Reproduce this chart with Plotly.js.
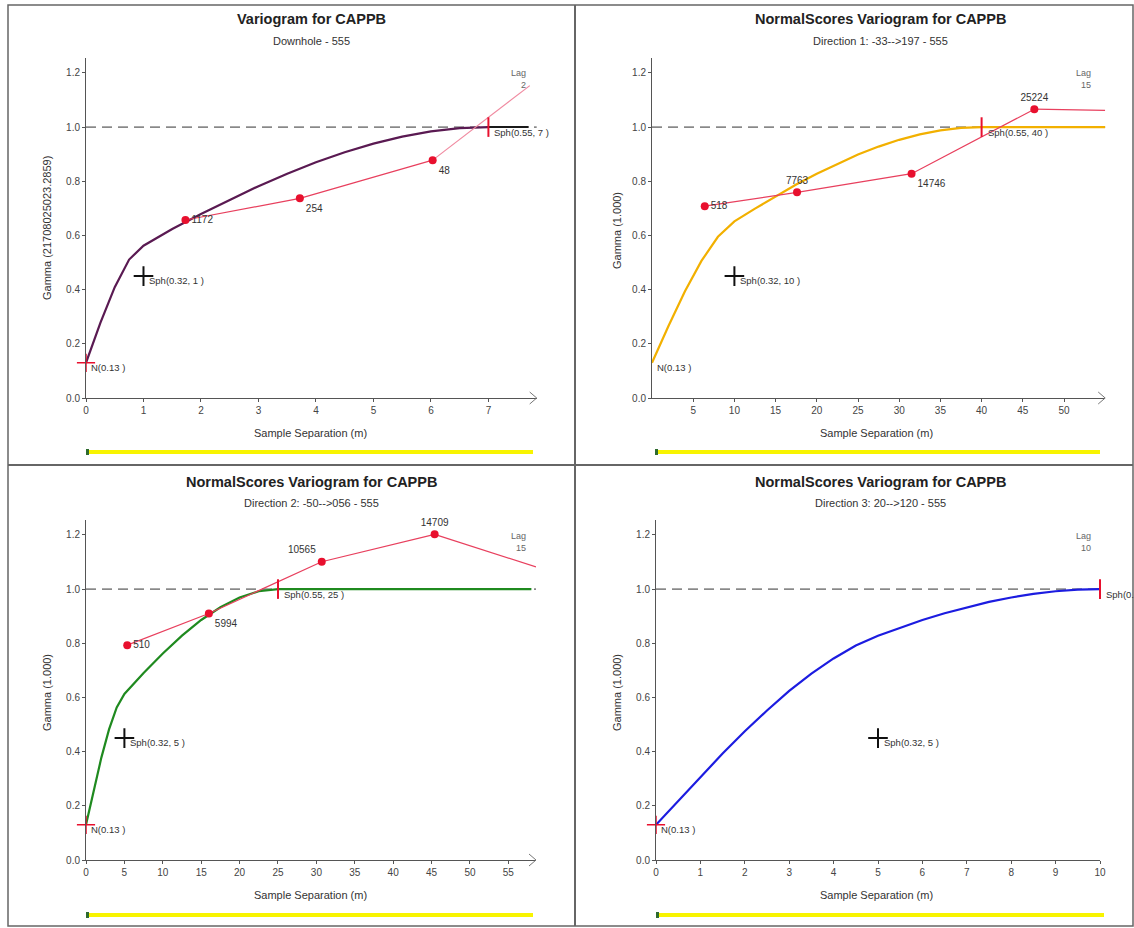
<!DOCTYPE html>
<html>
<head>
<meta charset="utf-8">
<script src="https://cdn.plot.ly/plotly-3.0.1.min.js"></script>
<style>html,body{margin:0;padding:0;background:#fff}#chart{width:1134px;height:928px}</style>
</head>
<body>
<div id="chart"></div>
<script>
// ---------- data ----------
// Panel 1: Downhole
const p1ModelX = [0, 0.25, 0.5, 0.75, 1, 1.5, 2, 2.5, 3, 3.5, 4, 4.5, 5, 5.5, 6, 6.5, 7];
const p1ModelY = [0.13, 0.277, 0.409, 0.511, 0.562, 0.624, 0.679, 0.732, 0.782, 0.828, 0.870, 0.907, 0.939, 0.965, 0.984, 0.996, 1.0];
const p1SillX = [7, 7.7];
const p1SillY = [1.0, 1.0];
const p1LagX = [1.73, 3.72, 6.03];
const p1LagY = [0.657, 0.737, 0.878];
const p1Pairs = ["1172", "254", "48"];
const p1TailX = [6.03, 7.72];
const p1TailY = [0.878, 1.153];

// Panel 2: Direction 1
const p2ModelX = [0, 2, 4, 6, 8, 10, 12.5, 15, 17.5, 20, 22.5, 25, 27.5, 30, 32.5, 35, 37.5, 40, 55];
const p2ModelY = [0.13, 0.266, 0.394, 0.506, 0.595, 0.652, 0.699, 0.745, 0.788, 0.828, 0.865, 0.899, 0.928, 0.953, 0.973, 0.988, 0.997, 1.0, 1.0];
const p2LagX = [6.4, 17.6, 31.5, 46.4];
const p2LagY = [0.708, 0.759, 0.828, 1.066];
const p2Pairs = ["518", "7763", "14746", "25224"];
const p2TailX = [46.4, 55];
const p2TailY = [1.066, 1.062];

// Panel 3: Direction 2
const p3ModelX = [0, 1, 2, 3, 4, 5, 7.5, 10, 12.5, 15, 17.5, 20, 22.5, 25, 58];
const p3ModelY = [0.13, 0.258, 0.378, 0.482, 0.563, 0.613, 0.690, 0.762, 0.828, 0.886, 0.933, 0.969, 0.992, 1.0, 1.0];
const p3LagX = [5.37, 16.0, 30.7, 45.4];
const p3LagY = [0.793, 0.910, 1.101, 1.202];
const p3Pairs = ["510", "5994", "10565", "14709"];
const p3TailX = [45.4, 58.6];
const p3TailY = [1.202, 1.082];

// Panel 4: Direction 3
const p4ModelX = [0, 0.5, 1, 1.5, 2, 2.5, 3, 3.5, 4, 4.5, 5, 5.5, 6, 6.5, 7, 7.5, 8, 8.5, 9, 9.5, 10];
const p4ModelY = [0.13, 0.219, 0.307, 0.393, 0.475, 0.552, 0.624, 0.688, 0.744, 0.792, 0.828, 0.858, 0.886, 0.911, 0.933, 0.953, 0.969, 0.982, 0.992, 0.998, 1.0];

// model structures: nugget, first spherical, second spherical
const nugget = 0.13;
const sph1Sill = 0.45;        // nugget + 0.32
const sph1Range = [1, 10, 5, 5];
const sph2Range = [7, 40, 25, 10];
const sillLevel = 1.0;
const nuggetLabels = ["N(0.13 )", "N(0.13 )", "N(0.13 )", "N(0.13 )"];
const sph1Labels = ["Sph(0.32, 1 )", "Sph(0.32, 10 )", "Sph(0.32, 5 )", "Sph(0.32, 5 )"];
const sph2Labels = ["Sph(0.55, 7 )", "Sph(0.55, 40 )", "Sph(0.55, 25 )", "Sph(0.55, 10 )"];
const lagNumbers = ["2", "15", "15", "10"];

const titles = ["Variogram for CAPPB", "NormalScores Variogram for CAPPB", "NormalScores Variogram for CAPPB", "NormalScores Variogram for CAPPB"];
const subtitles = ["Downhole - 555", "Direction 1: -33-->197 - 555", "Direction 2: -50-->056 - 555", "Direction 3: 20-->120 - 555"];
const yTitles = ["Gamma (21708025023.2859)", "Gamma (1.000)", "Gamma (1.000)", "Gamma (1.000)"];
const xTitle = "Sample Separation (m)";

const yTickVals = [0, 0.2, 0.4, 0.6, 0.8, 1.0, 1.2];
const xTickVals = [
  [0, 1, 2, 3, 4, 5, 6, 7],
  [5, 10, 15, 20, 25, 30, 35, 40, 45, 50],
  [0, 5, 10, 15, 20, 25, 30, 35, 40, 45, 50, 55],
  [0, 1, 2, 3, 4, 5, 6, 7, 8, 9, 10]
];
const xRanges = [[0, 7.84], [0, 55], [0, 58.6], [0, 10]];
const yRange = [0, 1.255];

// ---------- layout geometry (pixels) ----------
const W = 1134, H = 928;
const fx = p => p / W;
const fy = p => 1 - p / H;
const panels = [
  {xl: 86, xr: 536.7, yb: 398, yt: 58, tx: 311, ty: 19, sy: 41, gx: 47, gy: 228, axy: 433, axx: 310, bar: 452, barL: 86, barR: 533, lagX: 528, lagY: 66, arrow: true},
  {xl: 652, xr: 1105.2, yb: 398, yt: 58, tx: 880, ty: 19, sy: 41, gx: 617, gy: 231, axy: 433, axx: 876, bar: 452, barL: 655, barR: 1100, lagX: 1093, lagY: 66, arrow: true},
  {xl: 86, xr: 536, yb: 860, yt: 520, tx: 311, ty: 482, sy: 503, gx: 47, gy: 693, axy: 895, axx: 310, bar: 915, barL: 86, barR: 533, lagX: 528, lagY: 529, arrow: true},
  {xl: 656, xr: 1100, yb: 860, yt: 520, tx: 880, ty: 482, sy: 503, gx: 617, gy: 693, axy: 895, axx: 876, bar: 915, barL: 656, barR: 1104, lagX: 1093, lagY: 529, arrow: false}
];

const FONT = "Liberation Sans, Arial, sans-serif";
const RED = "#e8102e";
const LAGLINE = "#e8405e";
const modelColors = ["#5a1a52", "#f2b000", "#1f8a1f", "#1c1ce0"];

const traces = [];
const ax = i => (i === 0 ? "" : String(i + 1));

const modelX = [p1ModelX, p2ModelX, p3ModelX, p4ModelX];
const modelY = [p1ModelY, p2ModelY, p3ModelY, p4ModelY];
const lagXs = [p1LagX, p2LagX, p3LagX, null];
const lagYs = [p1LagY, p2LagY, p3LagY, null];
const pairs = [p1Pairs, p2Pairs, p3Pairs, null];
const tailXs = [p1TailX, p2TailX, p3TailX, null];
const tailYs = [p1TailY, p2TailY, p3TailY, null];
const tailColors = ["#f08aa0", LAGLINE, LAGLINE];
const textPos = [
  ["middle right", "bottom right", "bottom right"],
  ["middle right", "top center", "bottom right", "top center"],
  ["middle right", "bottom right", "top left", "top center"]
];

for (let i = 0; i < 4; i++) {
  const xa = "x" + ax(i), ya = "y" + ax(i);
  // model curve
  traces.push({x: modelX[i], y: modelY[i], xaxis: xa, yaxis: ya, mode: "lines",
    line: {color: modelColors[i], width: 2.2}, hoverinfo: "skip"});
  if (i === 0) {
    traces.push({x: p1SillX, y: p1SillY, xaxis: xa, yaxis: ya, mode: "lines",
      line: {color: "#1a1a1a", width: 2}, hoverinfo: "skip"});
  }
  // experimental variogram
  if (lagXs[i]) {
    traces.push({x: tailXs[i], y: tailYs[i], xaxis: xa, yaxis: ya, mode: "lines",
      line: {color: tailColors[i], width: 1.2}, hoverinfo: "skip"});
    traces.push({x: lagXs[i], y: lagYs[i], text: pairs[i], textposition: textPos[i],
      textfont: {family: FONT, size: 10, color: "#333"},
      xaxis: xa, yaxis: ya, mode: "lines+markers+text",
      line: {color: LAGLINE, width: 1.2}, marker: {color: RED, size: 8}, cliponaxis: false});
  }
  // nugget marker
  if (i !== 1) {
    traces.push({x: [0], y: [nugget], xaxis: xa, yaxis: ya, mode: "markers",
      marker: {symbol: "cross-thin-open", size: 13, color: RED, line: {color: RED, width: 1.5}}, cliponaxis: false});
  }
  // first structure marker
  traces.push({x: [sph1Range[i]], y: [sph1Sill], xaxis: xa, yaxis: ya, mode: "markers",
    marker: {symbol: "cross-thin-open", size: 14, color: "#111", line: {color: "#111", width: 2}}, cliponaxis: false});
  // second structure marker
  traces.push({x: [sph2Range[i]], y: [sillLevel], xaxis: xa, yaxis: ya, mode: "markers",
    marker: {symbol: "line-ns-open", size: 14, color: RED, line: {color: RED, width: 2}}, cliponaxis: false});
}

const layout = {
  width: W, height: H, margin: {l: 0, r: 0, t: 0, b: 0},
  paper_bgcolor: "#fff", plot_bgcolor: "rgba(0,0,0,0)",
  showlegend: false, font: {family: FONT, size: 10, color: "#333"},
  shapes: [], annotations: []
};

for (let i = 0; i < 4; i++) {
  const p = panels[i];
  const axisCommon = {showgrid: false, zeroline: false, showline: true, linecolor: "#555", linewidth: 1,
    ticks: "outside", ticklen: 3, tickcolor: "#555", tickfont: {family: FONT, size: 10, color: "#444"}, fixedrange: true};
  layout["xaxis" + ax(i)] = Object.assign({}, axisCommon, {
    domain: [fx(p.xl), fx(p.xr)], range: xRanges[i], anchor: "y" + ax(i),
    tickmode: "array", tickvals: xTickVals[i], ticktext: xTickVals[i].map(String)});
  layout["yaxis" + ax(i)] = Object.assign({}, axisCommon, {
    domain: [fy(p.yb), fy(p.yt)], range: yRange, anchor: "x" + ax(i),
    tickmode: "array", tickvals: yTickVals, ticktext: yTickVals.map(v => v.toFixed(1))});

  // sill dashed line
  layout.shapes.push({type: "line", xref: "x" + ax(i) + " domain", yref: "y" + ax(i),
    x0: 0, x1: 1, y0: sillLevel, y1: sillLevel, line: {color: "#333", width: 1, dash: "10px,6px"}, layer: "below"});
  // axis arrow (open chevron at the end of the x axis)
  if (p.arrow) {
    layout.shapes.push({type: "path", xref: "paper", yref: "paper",
      xsizemode: "pixel", ysizemode: "pixel", xanchor: fx(p.xr), yanchor: fy(p.yb),
      path: "M -7 6 L 0 0 L -7 -6", line: {color: "#777", width: 1}});
  }
  // yellow bar + green start dot
  layout.shapes.push({type: "line", xref: "paper", yref: "paper", x0: fx(p.barL), x1: fx(p.barR),
    y0: fy(p.bar), y1: fy(p.bar), line: {color: "#f8f400", width: 4}});
  layout.shapes.push({type: "rect", xref: "paper", yref: "paper", x0: fx(p.barL), x1: fx(p.barL + 3),
    y0: fy(p.bar + 3), y1: fy(p.bar - 3), line: {width: 0}, fillcolor: "#2f6b2f"});

  // titles
  layout.annotations.push({xref: "paper", yref: "paper", x: fx(p.tx), y: fy(p.ty), text: "<b>" + titles[i] + "</b>",
    showarrow: false, xanchor: "center", yanchor: "middle", font: {family: FONT, size: 14.5, color: "#222"}});
  layout.annotations.push({xref: "paper", yref: "paper", x: fx(p.tx), y: fy(p.sy), text: subtitles[i],
    showarrow: false, xanchor: "center", yanchor: "middle", font: {family: FONT, size: 11, color: "#333"}});
  // axis titles
  layout.annotations.push({xref: "paper", yref: "paper", x: fx(p.axx), y: fy(p.axy), text: xTitle,
    showarrow: false, xanchor: "center", yanchor: "middle", font: {family: FONT, size: 11, color: "#333"}});
  layout.annotations.push({xref: "paper", yref: "paper", x: fx(p.gx), y: fy(p.gy), text: yTitles[i], textangle: -90,
    showarrow: false, xanchor: "center", yanchor: "middle", font: {family: FONT, size: 11, color: "#333"}});
  // lag label
  layout.annotations.push({xref: "paper", yref: "paper", x: fx(p.lagX), y: fy(p.lagY), text: "Lag<br>" + lagNumbers[i],
    showarrow: false, xanchor: "right", yanchor: "top", align: "right", font: {family: FONT, size: 9, color: "#666"}});
  // structure labels
  const xr = "x" + ax(i), yr = "y" + ax(i);
  layout.annotations.push({xref: xr, yref: yr, x: 0, y: nugget, text: nuggetLabels[i], showarrow: false,
    xanchor: "left", yanchor: "middle", xshift: 3, yshift: -5, font: {family: FONT, size: 9.5, color: "#333"}});
  layout.annotations.push({xref: xr, yref: yr, x: sph1Range[i], y: sph1Sill, text: sph1Labels[i], showarrow: false,
    xanchor: "left", yanchor: "middle", xshift: 4, yshift: -4, font: {family: FONT, size: 9.5, color: "#333"}});
  layout.annotations.push({xref: xr, yref: yr, x: sph2Range[i], y: sillLevel, text: sph2Labels[i], showarrow: false,
    xanchor: "left", yanchor: "middle", xshift: 4, yshift: -5, font: {family: FONT, size: 9.5, color: "#333"}});
}

// panel frame
const frame = "#666";
layout.shapes.push({type: "rect", xref: "paper", yref: "paper", x0: fx(8), x1: fx(1133), y0: fy(926), y1: fy(5),
  line: {color: frame, width: 1.5}});
layout.shapes.push({type: "line", xref: "paper", yref: "paper", x0: fx(575), x1: fx(575), y0: fy(926), y1: fy(5),
  line: {color: frame, width: 2}});
layout.shapes.push({type: "line", xref: "paper", yref: "paper", x0: fx(8), x1: fx(1133), y0: fy(465), y1: fy(465),
  line: {color: frame, width: 2}});

Plotly.newPlot("chart", traces, layout, {staticPlot: true, displayModeBar: false});
</script>
</body>
</html>
